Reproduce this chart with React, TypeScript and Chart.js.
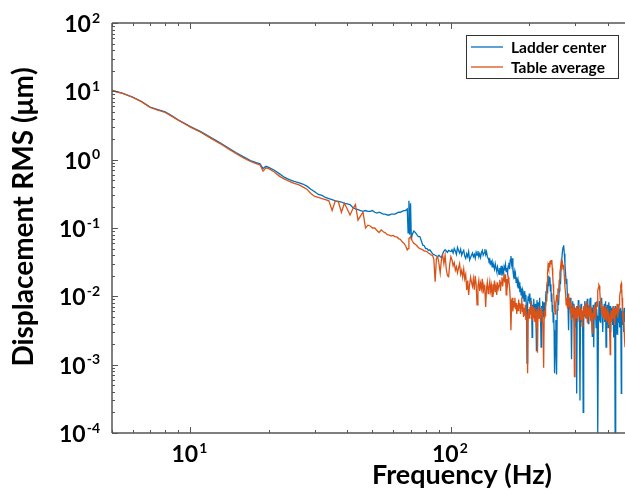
import { useEffect, useRef } from 'react';
import { Chart, registerables } from 'chart.js';

Chart.register(...registerables);

// Frequency samples (Hz)
const freqHz = [
  // 5 – 19.5
  5, 5.5, 6, 6.5, 7, 7.5, 8, 8.5, 9, 9.5, 10, 11, 12, 13, 14, 15, 16, 17, 18, 18.5, 19, 19.5,
  // 20 – 60
  20, 21, 22, 23, 24, 25, 26, 27, 28, 29,
  30, 31, 32, 33, 34, 35, 36, 37, 38, 39,
  40, 41, 42, 43, 44, 45, 46, 47, 48, 49,
  50, 51, 52, 53, 54, 55, 56, 57, 58, 59,
  60,
  // 61 – 100
  61, 62, 63, 64, 65, 66, 67, 68,
  68.5, 69, 69.5, 70, 70.5,
  71, 72, 73, 74, 75, 76, 77, 78, 79, 80,
  81, 82, 83, 84, 85, 86, 87, 88, 89, 90,
  91, 92, 93, 94, 95, 96, 97, 98, 99, 100,
  // 101 – 250
  101, 102, 103, 104, 105, 106, 107, 108, 109, 110,
  111, 112, 113, 114, 115, 116, 117, 118, 119, 120,
  121, 122, 123, 124, 125, 126, 127, 128, 129, 130,
  131, 132, 133, 134, 135, 136, 137, 138, 139, 140,
  141, 142, 143, 144, 145, 146, 147, 148, 149, 150,
  151, 152, 153, 154, 155, 156, 157, 158, 159, 160,
  161, 162, 163, 164, 165, 166, 167, 168, 169, 170,
  171, 172, 173, 174, 175, 176, 177, 178, 179, 180,
  181, 182, 183, 184, 185, 186, 187, 188, 189, 190,
  191, 192, 193, 194, 195, 196, 197, 198, 199, 200,
  201, 202, 203, 204, 205, 206, 207, 208, 209, 210,
  211, 212, 213, 214, 215, 216, 217, 218, 219, 220,
  221, 222, 223, 224, 225, 226, 227, 228, 229, 230,
  231, 232, 233, 234, 235, 236, 237, 238, 239, 240,
  241, 242, 243, 244, 245, 246, 247, 248, 249, 250,
  // 251.5 – 469
  251.5, 253, 254.5, 256, 257.5, 259, 260.5, 262, 263.5, 265,
  266.5, 268, 269.5, 271, 272.5, 274, 275.5, 277, 278.5, 280,
  281.5, 283, 284.5, 286, 287.5, 289, 290.5, 292, 293.5, 295,
  296.5, 298, 299.5, 301, 302.5, 304, 305.5, 307, 308.5, 310,
  311.5, 313, 314.5, 316, 317.5, 319, 320.5, 322, 323.5, 325,
  326.5, 328, 329.5, 331, 332.5, 334, 335.5, 337, 338.5, 340,
  341.5, 343, 344.5, 346, 347.5, 349, 350.5, 352, 353.5, 355,
  356.5, 358, 359.5, 361, 362.5, 364, 365.5, 367, 368.5, 370,
  371.5, 373, 374.5, 376, 377.5, 379, 380.5, 382, 383.5, 385,
  386.5, 388, 389.5, 391, 392.5, 394, 395.5, 397, 398.5, 400,
  401.5, 403, 404.5, 406, 407.5, 409, 410.5, 412, 413.5, 415,
  416.5, 418, 419.5, 421, 422.5, 424, 425.5, 427, 428.5, 430,
  431.5, 433, 434.5, 436, 437.5, 439, 440.5, 442, 443.5, 445,
  446.5, 448, 449.5, 451, 452.5, 454, 455.5, 457, 458.5, 460,
  461.5, 463, 464.5, 466, 467.5, 469,
];

// Displacement RMS (µm) – Ladder center
const ladderCenter = [
  10.3, 9.3, 8.2, 7.1, 5.9, 5.4, 5.0, 4.4, 3.8, 3.4, 3.05, 2.55, 2.1, 1.76, 1.48, 1.26, 1.1, 0.97, 0.9, 0.87, 0.74, 0.8,
  0.77, 0.7, 0.62, 0.55, 0.51, 0.48, 0.46, 0.44, 0.41, 0.37,
  0.34, 0.31, 0.3, 0.28, 0.27, 0.26, 0.25, 0.245, 0.24, 0.23,
  0.225, 0.22, 0.2, 0.19, 0.185, 0.18, 0.175, 0.18, 0.175, 0.175,
  0.18, 0.17, 0.165, 0.17, 0.165, 0.16, 0.16, 0.155, 0.155, 0.16,
  0.16,
  0.16, 0.165, 0.17, 0.17, 0.175, 0.18, 0.18, 0.19,
  0.085, 0.25, 0.08, 0.23, 0.067,
  0.08, 0.09, 0.086, 0.08, 0.075, 0.075, 0.065, 0.056, 0.055, 0.05,
  0.05, 0.047, 0.048, 0.045, 0.042, 0.041, 0.04, 0.039, 0.038, 0.04,
  0.038, 0.037, 0.042, 0.046, 0.048, 0.046, 0.044, 0.047, 0.046, 0.045,
  0.048, 0.043, 0.05, 0.046, 0.041, 0.052, 0.047, 0.043, 0.049, 0.04,
  0.044, 0.047, 0.039, 0.036, 0.042, 0.038, 0.045, 0.034, 0.037, 0.04,
  0.043, 0.038, 0.041, 0.036, 0.044, 0.04, 0.046, 0.038, 0.042, 0.037,
  0.044, 0.047, 0.04, 0.043, 0.049, 0.041, 0.045, 0.038, 0.036, 0.033,
  0.035, 0.03, 0.032, 0.027, 0.031, 0.028, 0.025, 0.03, 0.026, 0.023,
  0.027, 0.024, 0.021, 0.026, 0.023, 0.028, 0.02, 0.025, 0.022, 0.027,
  0.024, 0.029, 0.023, 0.026, 0.022, 0.028, 0.031, 0.025, 0.034, 0.039,
  0.03, 0.036, 0.024, 0.02, 0.023, 0.018, 0.021, 0.016, 0.019, 0.015,
  0.017, 0.013, 0.016, 0.0115, 0.014, 0.0105, 0.013, 0.0095, 0.012, 0.011,
  0.0085, 0.012, 0.009, 0.0105, 0.0065, 0.00105, 0.0075, 0.01, 0.0085, 0.011,
  0.0078, 0.0095, 0.0055, 0.0085, 0.0025, 0.0075, 0.0065, 0.0092, 0.0058, 0.0048,
  0.0078, 0.0062, 0.0016, 0.0088, 0.006, 0.0082, 0.0052, 0.007, 0.0095, 0.0062,
  0.0045, 0.0018, 0.0072, 0.0058, 0.0085, 0.005, 0.0068, 0.0082, 0.0058, 0.0075,
  0.0095, 0.012, 0.0085, 0.015, 0.011, 0.017, 0.014, 0.02, 0.016, 0.019,
  0.012, 0.015, 0.0085, 0.011, 0.006, 0.0075, 0.0042, 0.0058, 0.0032, 0.00075,
  0.0018, 0.0045, 0.00072, 0.0063, 0.009, 0.0075, 0.012, 0.018, 0.015, 0.028,
  0.035, 0.045, 0.052, 0.056, 0.042, 0.03, 0.022, 0.0155, 0.018, 0.0105,
  0.0075, 0.0032, 0.0085, 0.0065, 0.0095, 0.0055, 0.0012, 0.007, 0.0085, 0.005,
  0.0078, 0.0062, 0.0035, 0.0068, 0.0045, 0.00038, 0.0072, 0.0055, 0.0088, 0.0065,
  0.0045, 0.0003, 0.0062, 0.0078, 0.0042, 0.0058, 0.0035, 0.0002, 0.0068, 0.0052,
  0.0085, 0.0062, 0.0078, 0.0048, 0.0068, 0.0092, 0.0055, 0.004, 0.0072, 0.0058,
  0.0085, 0.0095, 0.0062, 0.0042, 0.0068, 0.0026, 0.0055, 0.0075, 0.0018, 0.0062,
  0.0048, 0.0082, 0.0058, 0.0035, 0.0065, 0.0052, 0.0038, 0.0001, 0.0045, 0.0068,
  0.0085, 0.0055, 0.0042, 0.0072, 0.0058, 0.0095, 0.0062, 0.0045, 0.003, 0.0068,
  0.0055, 0.0078, 0.0042, 0.0065, 0.0085, 0.0018, 0.0048, 0.0062, 0.0075, 0.0052,
  0.0035, 0.0068, 0.0082, 0.0055, 0.0042, 0.0072, 0.003, 0.0058, 0.0068, 0.0045,
  0.0062, 0.0038, 0.0072, 0.0025, 0.0055, 0.0045, 0.0065, 0.0001, 0.0052, 0.0072,
  0.0048, 0.0062, 0.0028, 0.0068, 0.0055, 0.0042, 0.0075, 0.0058, 0.0035, 0.0065,
  0.0052, 0.0035, 0.0068, 0.00038, 0.0045, 0.0062, 0.0048, 0.0038, 0.0058, 0.003,
  0.0052, 0.0068, 0.0042, 0.0055, 0.0048, 0.006,
];

// Displacement RMS (µm) – Table average
const tableAverage = [
  10.3, 9.3, 8.2, 7.0, 5.8, 5.3, 4.9, 4.3, 3.75, 3.35, 3.0, 2.5, 2.05, 1.72, 1.44, 1.22, 1.06, 0.94, 0.87, 0.84, 0.68, 0.76,
  0.74, 0.66, 0.57, 0.52, 0.48, 0.45, 0.43, 0.4, 0.37, 0.32,
  0.29, 0.28, 0.27, 0.26, 0.25, 0.18, 0.25, 0.24, 0.17, 0.23,
  0.19, 0.155, 0.19, 0.22, 0.13, 0.15, 0.17, 0.1, 0.11, 0.107,
  0.1, 0.1, 0.092, 0.086, 0.094, 0.088, 0.085, 0.08, 0.079, 0.076,
  0.078,
  0.075, 0.074, 0.07, 0.068, 0.063, 0.06, 0.055, 0.048,
  0.05, 0.07, 0.072, 0.075, 0.07,
  0.065, 0.06, 0.058, 0.055, 0.052, 0.05, 0.049, 0.048, 0.046, 0.046,
  0.045, 0.043, 0.042, 0.04, 0.04, 0.035, 0.0164, 0.036, 0.038, 0.03,
  0.022, 0.035, 0.04, 0.03, 0.04, 0.025, 0.02, 0.0194, 0.03, 0.038,
  0.034, 0.028, 0.031, 0.024, 0.027, 0.022, 0.026, 0.03, 0.021, 0.024,
  0.019, 0.025, 0.018, 0.021, 0.0124, 0.017, 0.0105, 0.015, 0.019, 0.016,
  0.014, 0.018, 0.0125, 0.02, 0.015, 0.0075, 0.014, 0.017, 0.012, 0.0155,
  0.013, 0.018, 0.011, 0.0145, 0.0125, 0.007, 0.013, 0.016, 0.011, 0.0135,
  0.0165, 0.012, 0.0145, 0.01, 0.015, 0.0125, 0.017, 0.0115, 0.014, 0.0105,
  0.016, 0.013, 0.0145, 0.0175, 0.012, 0.016, 0.019, 0.014, 0.0175, 0.02,
  0.016, 0.021, 0.0105, 0.018, 0.015, 0.019, 0.0165, 0.0135, 0.009, 0.0032,
  0.0075, 0.0095, 0.006, 0.0085, 0.007, 0.0095, 0.0065, 0.008, 0.0055, 0.0075,
  0.0062, 0.009, 0.0068, 0.008, 0.0055, 0.0075, 0.0095, 0.006, 0.0078, 0.005,
  0.0068, 0.0052, 0.0075, 0.0045, 0.006, 0.0035, 0.00075, 0.0055, 0.0065, 0.0048,
  0.007, 0.0055, 0.0085, 0.0062, 0.0045, 0.0072, 0.0058, 0.0048, 0.0068, 0.0042,
  0.006, 0.0052, 0.0035, 0.0065, 0.0015, 0.0055, 0.0072, 0.0048, 0.0062, 0.0055,
  0.0042, 0.0068, 0.0052, 0.006, 0.0045, 0.0025, 0.0009, 0.0048, 0.0062, 0.0052,
  0.007, 0.0085, 0.012, 0.016, 0.022, 0.028, 0.025, 0.031, 0.027, 0.033,
  0.03, 0.034, 0.031, 0.034, 0.026, 0.02, 0.015, 0.011, 0.0085, 0.0065,
  0.0055, 0.0075, 0.0105, 0.0085, 0.013, 0.011, 0.017, 0.022, 0.026, 0.032,
  0.028, 0.031, 0.025, 0.029, 0.02, 0.014, 0.011, 0.0075, 0.0095, 0.0068,
  0.0088, 0.011, 0.0072, 0.0095, 0.0058, 0.0082, 0.0045, 0.0068, 0.0052, 0.0075,
  0.0042, 0.00067, 0.0055, 0.0068, 0.0048, 0.0072, 0.0058, 0.0042, 0.0065, 0.0075,
  0.0052, 0.0062, 0.0045, 0.0068, 0.0055, 0.0036, 0.0062, 0.0048, 0.0072, 0.0055,
  0.0065, 0.0078, 0.0048, 0.0085, 0.0058, 0.0042, 0.0068, 0.0052, 0.0075, 0.0056,
  0.0068, 0.0045, 0.0072, 0.0055, 0.0038, 0.0029, 0.0058, 0.0048, 0.0068, 0.0052,
  0.0075, 0.0058, 0.0045, 0.0068, 0.0085, 0.0072, 0.0098, 0.012, 0.0135, 0.0147,
  0.0142, 0.0118, 0.009, 0.0068, 0.0078, 0.0055, 0.0068, 0.0048, 0.0062, 0.0072,
  0.0052, 0.0065, 0.0045, 0.0058, 0.0072, 0.0052, 0.0042, 0.0062, 0.0055, 0.0068,
  0.0048, 0.0058, 0.0038, 0.0052, 0.0025, 0.0014, 0.0048, 0.0062, 0.0055, 0.0042,
  0.0058, 0.0068, 0.0048, 0.0055, 0.0072, 0.0045, 0.0038, 0.0058, 0.0065, 0.0052,
  0.0068, 0.0055, 0.0078, 0.0062, 0.0048, 0.0068, 0.0058, 0.0075, 0.0085, 0.0098,
  0.0115, 0.0128, 0.0145, 0.0155, 0.0132, 0.0095, 0.0072, 0.0055, 0.0042, 0.0058,
  0.0045, 0.003, 0.0022, 0.0018, 0.0035, 0.0052,
];

const seriesLabels = ['Ladder center', 'Table average'];
const seriesColors = ['#0072BD', '#D95319'];
const xTickExponents = [1, 2];
const yTickExponents = [-4, -3, -2, -1, 0, 1, 2];
const xTitle = 'Frequency (Hz)';
const yTitle = 'Displacement RMS (μm)';
const xRange = [5, 466];
const yRange = [1e-4, 100];

const FONT = 'Lato, "Open Sans", sans-serif';

function drawPower(ctx: CanvasRenderingContext2D, exp: number, x: number, baseY: number, align: 'right' | 'center') {
  const base = '10';
  const sup = exp < 0 ? '-' + Math.abs(exp) : String(exp);
  ctx.font = `bold 23px ${FONT}`;
  const wb = ctx.measureText(base).width;
  ctx.font = `bold 14px ${FONT}`;
  const we = ctx.measureText(sup).width;
  const total = wb + we + 1;
  const start = align === 'right' ? x - total : x - total / 2;
  ctx.textAlign = 'left';
  ctx.textBaseline = 'alphabetic';
  ctx.font = `bold 23px ${FONT}`;
  ctx.fillText(base, start, baseY);
  ctx.font = `bold 14px ${FONT}`;
  ctx.fillText(sup, start + wb + 1, baseY - 9.5);
}

const framePlugin = {
  id: 'matlabFrame',
  afterDraw(chart: any) {
    const { ctx, chartArea } = chart;
    const { left, top, right, bottom } = chartArea;
    const xs = chart.scales.x;
    const ys = chart.scales.y;
    ctx.save();
    // axes lines
    ctx.strokeStyle = '#555555';
    ctx.lineWidth = 1.5;
    ctx.beginPath();
    ctx.moveTo(left, top);
    ctx.lineTo(right + 2, top);
    ctx.moveTo(left, top);
    ctx.lineTo(left, bottom);
    ctx.moveTo(left, bottom);
    ctx.lineTo(right + 2, bottom);
    ctx.stroke();

    // ticks (pointing inwards)
    ctx.lineWidth = 1;
    ctx.beginPath();
    for (let d = 1; d <= 1000; d *= 10) {
      for (let m = 1; m <= 9; m++) {
        const v = m * d;
        if (v < xRange[0] || v > xRange[1]) continue;
        const px = Math.round(xs.getPixelForValue(v)) + 0.5;
        const len = m === 1 ? 6 : 3;
        ctx.moveTo(px, bottom);
        ctx.lineTo(px, bottom - len);
        ctx.moveTo(px, top);
        ctx.lineTo(px, top + len);
      }
    }
    for (let e = -4; e <= 2; e++) {
      for (let m = 1; m <= 9; m++) {
        const v = m * Math.pow(10, e);
        if (v < yRange[0] * 0.999 || v > yRange[1] * 1.001) continue;
        const py = Math.round(ys.getPixelForValue(v)) + 0.5;
        const len = m === 1 ? 6 : 3;
        ctx.moveTo(left, py);
        ctx.lineTo(left + len, py);
      }
    }
    ctx.stroke();

    // tick labels
    ctx.fillStyle = '#000000';
    yTickExponents.forEach((e) => {
      const py = ys.getPixelForValue(Math.pow(10, e));
      drawPower(ctx, e, left - 12, py + 9, 'right');
    });
    xTickExponents.forEach((e) => {
      const px = xs.getPixelForValue(Math.pow(10, e));
      drawPower(ctx, e, px - 1, bottom + 29, 'center');
    });

    // axis titles
    ctx.font = `bold 27px ${FONT}`;
    ctx.textAlign = 'center';
    ctx.textBaseline = 'alphabetic';
    ctx.fillText(xTitle, 462, bottom + 51);
    ctx.save();
    ctx.translate(33, 217);
    ctx.rotate(-Math.PI / 2);
    ctx.font = `bold 28px ${FONT}`;
    ctx.fillText(yTitle, 0, 0);
    ctx.restore();

    // legend
    const bx = right - 159;
    const by = top + 12;
    const bw = 152;
    const bh = 43;
    ctx.fillStyle = '#ffffff';
    ctx.fillRect(bx, by, bw, bh);
    ctx.strokeStyle = '#333333';
    ctx.lineWidth = 1;
    ctx.strokeRect(bx + 0.5, by + 0.5, bw, bh);
    seriesLabels.forEach((label, i) => {
      const ly = by + 12 + i * 20;
      ctx.strokeStyle = seriesColors[i];
      ctx.lineWidth = 1.3;
      ctx.beginPath();
      ctx.moveTo(bx + 5, ly);
      ctx.lineTo(bx + 37, ly);
      ctx.stroke();
      ctx.fillStyle = '#000000';
      ctx.font = `bold 15.5px ${FONT}`;
      ctx.textAlign = 'left';
      ctx.textBaseline = 'alphabetic';
      ctx.fillText(label, bx + 45, ly + 6);
    });
    ctx.restore();
  },
};

export default function App() {
  const canvasRef = useRef<HTMLCanvasElement | null>(null);

  useEffect(() => {
    if (!canvasRef.current) return;
    const chart = new Chart(canvasRef.current, {
      type: 'line',
      data: {
        datasets: [
          {
            label: seriesLabels[0],
            data: freqHz.map((f, i) => ({ x: f, y: ladderCenter[i] })),
            borderColor: seriesColors[0],
            borderWidth: 1.3,
            pointRadius: 0,
            tension: 0,
            order: 2,
          },
          {
            label: seriesLabels[1],
            data: freqHz.map((f, i) => ({ x: f, y: tableAverage[i] })),
            borderColor: seriesColors[1],
            borderWidth: 1.3,
            pointRadius: 0,
            tension: 0,
            order: 1,
          },
        ],
      },
      options: {
        animation: false,
        responsive: false,
        devicePixelRatio: 1,
        layout: { autoPadding: false, padding: { left: 112, top: 23, right: 0, bottom: 63 } },
        scales: {
          x: { type: 'logarithmic', min: xRange[0], max: xRange[1], display: false },
          y: { type: 'logarithmic', min: yRange[0], max: yRange[1], display: false },
        },
        plugins: { legend: { display: false }, tooltip: { enabled: false } },
        events: [],
      },
      plugins: [framePlugin],
    });
    return () => chart.destroy();
  }, []);

  return (
    <div style={{ position: 'fixed', left: 0, top: 0, width: 625, height: 496, background: '#ffffff' }}>
      <canvas ref={canvasRef} width={625} height={496} />
    </div>
  );
}
